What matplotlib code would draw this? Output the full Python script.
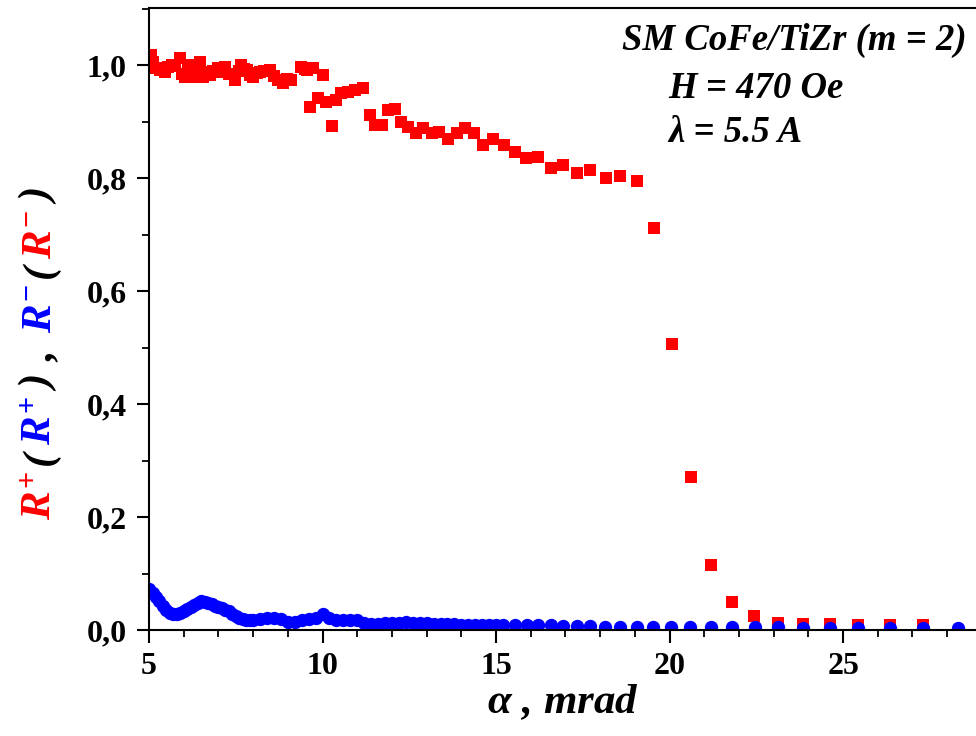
import numpy as np
import matplotlib
matplotlib.use('Agg')
import matplotlib.pyplot as plt
from matplotlib.ticker import MultipleLocator, FuncFormatter

plt.rcParams['font.family'] = 'Liberation Serif'
plt.rcParams['font.weight'] = 'bold'
plt.rcParams['mathtext.fontset'] = 'custom'
plt.rcParams['mathtext.it'] = 'Liberation Serif:bold:italic'
plt.rcParams['mathtext.rm'] = 'Liberation Serif:bold'
plt.rcParams['mathtext.bf'] = 'Liberation Serif:bold'

# R+ reflectivity (red squares)
alpha_plus = [5.05, 5.12, 5.20, 5.31, 5.40, 5.45, 5.55, 5.65, 5.75, 5.88, 5.95, 6.03,
              6.12, 6.20, 6.27, 6.36, 6.46, 6.56, 6.65, 6.75, 6.85, 6.99, 7.08, 7.18,
              7.30, 7.47, 7.58, 7.66, 7.75, 7.81, 7.90, 8.00, 8.10, 8.19, 8.30, 8.48,
              8.60, 8.72, 8.86, 8.98, 9.10, 9.39, 9.50, 9.54, 9.63, 9.73, 9.87, 10.00,
              10.11, 10.26, 10.40, 10.54, 10.73, 10.93, 11.17, 11.36, 11.50, 11.70, 11.89,
              12.08, 12.27, 12.46, 12.70, 12.90, 13.14, 13.36, 13.62, 13.86, 14.10, 14.36,
              14.63, 14.91, 15.22, 15.54, 15.86, 16.21, 16.57, 16.93, 17.32, 17.72, 18.16,
              18.58, 19.06, 19.54, 20.07, 20.61, 21.20, 21.80, 22.43, 23.13, 23.85, 24.62,
              25.43, 26.35, 27.29]
r_plus = [1.018, 1.005, 0.995, 0.991, 0.993, 0.988, 0.996, 1.000, 0.998, 1.012, 0.985, 0.979,
          1.000, 0.985, 0.979, 0.992, 1.006, 0.979, 0.988, 0.982, 0.990, 0.994, 0.988, 0.997,
          0.985, 0.973, 0.990, 1.000, 0.993, 0.991, 0.983, 0.979, 0.986, 0.988, 0.990, 0.991,
          0.980, 0.973, 0.968, 0.975, 0.973, 0.997, 0.993, 0.991, 0.925, 0.994, 0.941, 0.982,
          0.935, 0.892, 0.938, 0.950, 0.953, 0.956, 0.959, 0.912, 0.894, 0.894, 0.920,
          0.923, 0.900, 0.891, 0.879, 0.888, 0.879, 0.882, 0.870, 0.879, 0.888, 0.879,
          0.858, 0.870, 0.858, 0.847, 0.835, 0.838, 0.817, 0.823, 0.809, 0.815, 0.801,
          0.804, 0.795, 0.711, 0.507, 0.270, 0.115, 0.049, 0.024, 0.013, 0.011, 0.010,
          0.009, 0.009, 0.009]

# R- reflectivity (blue circles)
alpha_minus = [5.0, 5.1, 5.2, 5.3, 5.4, 5.5, 5.6, 5.7, 5.8, 5.9, 6.0, 6.1, 6.2, 6.3, 6.4,
               6.5, 6.6, 6.7, 6.8, 6.9, 7.0, 7.1, 7.2, 7.3, 7.4, 7.5, 7.6, 7.7, 7.8, 7.9,
               8.0, 8.2, 8.4, 8.6, 8.8, 9.0, 9.2, 9.4, 9.6, 9.8, 10.0, 10.2, 10.4, 10.6,
               10.8, 11.0, 11.2, 11.4, 11.6, 11.8, 12.0, 12.2, 12.4, 12.6, 12.8, 13.0,
               13.2, 13.4, 13.6, 13.8, 14.0, 14.2, 14.4, 14.6, 14.8, 15.0, 15.21, 15.55,
               15.88, 16.22, 16.57, 16.93, 17.32, 17.70, 18.13, 18.58, 19.05, 19.52, 20.05,
               20.60, 21.18, 21.80, 22.45, 23.13, 23.85, 24.62, 25.43, 26.35, 27.29, 28.31]
r_minus = [0.072, 0.066, 0.059, 0.051, 0.043, 0.036, 0.031, 0.028, 0.029, 0.031, 0.034, 0.037,
           0.040, 0.044, 0.048, 0.051, 0.050, 0.048, 0.046, 0.043, 0.041, 0.039, 0.036, 0.033,
           0.029, 0.025, 0.022, 0.020, 0.018, 0.017, 0.017, 0.020, 0.022, 0.021, 0.019, 0.015,
           0.014, 0.018, 0.020, 0.022, 0.029, 0.022, 0.018, 0.017, 0.018, 0.017, 0.013, 0.010,
           0.011, 0.012, 0.012, 0.013, 0.015, 0.013, 0.012, 0.012, 0.011, 0.011, 0.010, 0.010,
           0.009, 0.009, 0.009, 0.008, 0.008, 0.008, 0.008, 0.008, 0.008, 0.008, 0.008, 0.007,
           0.007, 0.007, 0.006, 0.006, 0.006, 0.005, 0.005, 0.005, 0.005, 0.005, 0.005, 0.005,
           0.004, 0.004, 0.004, 0.004, 0.004, 0.004]

fig = plt.figure(figsize=(9.76, 7.36), dpi=100)
ax = fig.add_axes([0.1527, 0.144, 0.8473, 0.8451])

ax.plot(alpha_plus, r_plus, 's', color='#ff0000', markersize=8.4, markeredgewidth=0)
ax.plot(alpha_minus, r_minus, 'o', color='#0000ff', markersize=9.6, markeredgewidth=0)

ax.set_xlim(5, 28.83)
ax.set_ylim(0, 1.101)
ax.xaxis.set_major_locator(MultipleLocator(5))
ax.xaxis.set_minor_locator(MultipleLocator(1))
ax.yaxis.set_major_locator(MultipleLocator(0.2))
ax.yaxis.set_minor_locator(MultipleLocator(0.1))
ax.yaxis.set_major_formatter(FuncFormatter(lambda v, p: f'{v:.1f}'.replace('.', ',')))

ax.spines['right'].set_visible(False)
for s in ['left', 'bottom', 'top']:
    ax.spines[s].set_linewidth(1.5)
ax.tick_params(which='major', direction='out', length=9, width=1.5, labelsize=23, pad=7)
ax.tick_params(which='minor', direction='out', length=5, width=1.3)
ax.tick_params(top=False, right=False)

ax.set_xlabel(r'$\alpha$ , mrad', fontsize=31, fontweight='bold', fontstyle='italic', labelpad=1)

# annotation block
fig.text(967 / 976, 1 - 40 / 736, 'SM CoFe/TiZr (m = 2)', fontsize=26.5, fontstyle='italic',
         fontweight='bold', ha='right', va='center')
fig.text(668 / 976, 1 - 88 / 736, 'H = 470 Oe', fontsize=26.5, fontstyle='italic',
         fontweight='bold', ha='left', va='center')
fig.text(668 / 976, 1 - 132 / 736, 'λ = 5.5 A', fontsize=26.5, fontstyle='italic',
         fontweight='bold', ha='left', va='center')

# multi-coloured y label, stacked piece by piece
pieces = [(r'$R^{+}$', '#ff0000'), ('(', 'black'), (r'$R^{+}$', '#0000ff'), (')', 'black'),
          (' , ', 'black'), (r'$R^{-}$', '#0000ff'), ('(', 'black'), (r'$R^{-}$', '#ff0000'),
          (')', 'black')]
renderer = fig.canvas.get_renderer()
ypos = 216 / 736
for txt, col in pieces:
    t = fig.text(51 / 976, ypos, txt, color=col, fontsize=31, fontstyle='italic',
                 fontweight='bold', rotation=90, rotation_mode='anchor',
                 ha='left', va='baseline')
    bb = t.get_window_extent(renderer)
    ypos += (bb.height + 5.5) / fig.bbox.height

fig.savefig('out.png', dpi=100)
